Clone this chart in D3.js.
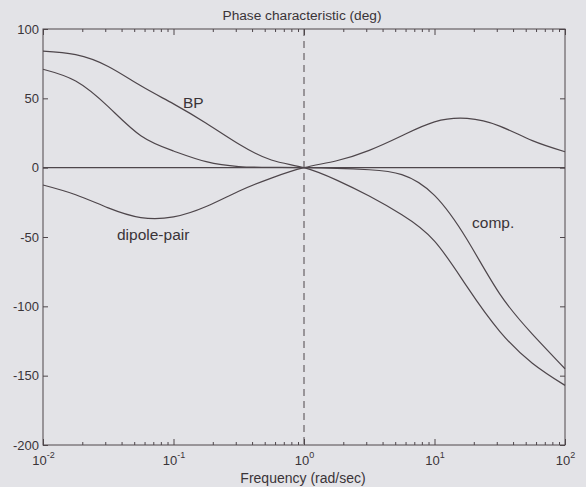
<!DOCTYPE html>
<html>
<head>
<meta charset="utf-8">
<script src="https://cdn.jsdelivr.net/npm/d3@7"></script>
<style>
  html, body { margin: 0; padding: 0; background: #e3e3e7; }
  svg { display: block; }
  text { font-family: Arial, "Liberation Sans", sans-serif; fill: #3a3438; }
</style>
</head>
<body>
<svg id="chart" width="586" height="487"></svg>
<script>
// Frequency grid (rad/sec), quarter-decade steps from 1e-2 to 1e2
const frequency = [0.01, 0.0178, 0.0316, 0.0562, 0.1, 0.178, 0.316, 0.562,
                   1, 1.78, 3.16, 5.62, 10, 17.8, 31.6, 56.2, 100];

// Phase of each transfer function (deg)
const phaseBP     = [84, 81.5, 73, 59, 46, 32, 17, 5.5, 0, -9, -20.5, -34, -53, -86, -118, -141, -157];
const phaseDipole = [-12.5, -19.5, -29, -36, -35.5, -28, -17, -7.5, 0, 5, 12.5, 23, 33, 35.5, 30, 19.5, 11.5];
const phaseComp   = [71, 62.5, 44, 23, 12, 4.3, 0.8, 0.2, 0, -0.5, -1.5, -5, -20, -52, -91, -120, -145];

const xTickValues = [0.01, 0.1, 1, 10, 100];
const xTickExponents = ["-2", "-1", "0", "1", "2"];
const yTickValues = [100, 50, 0, -50, -100, -150, -200];

const curveLabels = [
  { text: "BP", f: 0.118, v: 42.7 },
  { text: "dipole-pair", f: 0.0369, v: -52.5 },
  { text: "comp.", f: 19.4, v: -43.8 }
];

const margin = { left: 43, right: 21, top: 29, bottom: 42 };
const W = 586, H = 487;
const ink = "#4e464b";

const svg = d3.select("#chart");

const x = d3.scaleLog().domain([0.01, 100]).range([margin.left, W - margin.right]);
const y = d3.scaleLinear().domain([-200, 100]).range([H - margin.bottom, margin.top]);

// minor ticks 2..9 per decade
const minorTicks = [];
for (let d = -2; d < 2; d++) {
  for (let k = 2; k <= 9; k++) minorTicks.push(k * Math.pow(10, d));
}

function styleAxis(g) {
  g.select(".domain").remove();
  g.selectAll(".tick line").attr("stroke", ink).attr("stroke-width", 1);
}

// Bottom axis: major ticks with 10^n labels
const bottomMajor = svg.append("g")
  .attr("transform", `translate(0,${y(-200)})`)
  .call(d3.axisBottom(x).tickValues(xTickValues).tickSize(-6).tickSizeOuter(0).tickFormat(""))
  .call(styleAxis);

bottomMajor.selectAll(".tick").each(function(d, i) {
  const t = d3.select(this).append("text")
    .attr("y", 20)
    .attr("text-anchor", "middle")
    .attr("font-size", 13);
  t.append("tspan").text("10");
  t.append("tspan").attr("dy", -7).attr("font-size", 9).text(xTickExponents[i]);
});

svg.append("g")
  .attr("transform", `translate(0,${y(-200)})`)
  .call(d3.axisBottom(x).tickValues(minorTicks).tickSize(-3).tickSizeOuter(0).tickFormat(""))
  .call(styleAxis);

// Top axis ticks
svg.append("g")
  .attr("transform", `translate(0,${y(100)})`)
  .call(d3.axisTop(x).tickValues(xTickValues).tickSize(-6).tickSizeOuter(0).tickFormat(""))
  .call(styleAxis);
svg.append("g")
  .attr("transform", `translate(0,${y(100)})`)
  .call(d3.axisTop(x).tickValues(minorTicks).tickSize(-3).tickSizeOuter(0).tickFormat(""))
  .call(styleAxis);

// Left axis with labels (plain hyphen for negatives)
svg.append("g")
  .attr("transform", `translate(${x(0.01)},0)`)
  .call(d3.axisLeft(y).tickValues(yTickValues).tickSize(-5).tickSizeOuter(0).tickPadding(4).tickFormat(d => String(d)))
  .call(styleAxis)
  .call(g => g.selectAll("text").attr("font-size", 13).attr("fill", "#3a3438").attr("font-family", "Arial, 'Liberation Sans', sans-serif"));

// Right axis ticks
svg.append("g")
  .attr("transform", `translate(${x(100)},0)`)
  .call(d3.axisRight(y).tickValues(yTickValues).tickSize(-5).tickSizeOuter(0).tickFormat(""))
  .call(styleAxis);

// Plot frame
svg.append("rect")
  .attr("x", x(0.01)).attr("y", y(100))
  .attr("width", x(100) - x(0.01)).attr("height", y(-200) - y(100))
  .attr("fill", "none").attr("stroke", ink).attr("stroke-width", 1);

// Zero-phase reference line
svg.append("line")
  .attr("x1", x(0.01)).attr("x2", x(100))
  .attr("y1", y(0)).attr("y2", y(0))
  .attr("stroke", ink).attr("stroke-width", 1.1);

// Dashed marker at 1 rad/sec
svg.append("line")
  .attr("x1", x(1)).attr("x2", x(1))
  .attr("y1", y(100)).attr("y2", y(-200))
  .attr("stroke", ink).attr("stroke-width", 1)
  .attr("stroke-dasharray", "7,5");

// Phase curves
const line = d3.line()
  .x((d, i) => x(frequency[i]))
  .y(d => y(d))
  .curve(d3.curveNatural);

[phaseBP, phaseDipole, phaseComp].forEach(series => {
  svg.append("path")
    .datum(series)
    .attr("d", line)
    .attr("fill", "none")
    .attr("stroke", ink)
    .attr("stroke-width", 1.2);
});

// Curve labels
curveLabels.forEach(l => {
  svg.append("text")
    .attr("x", x(l.f)).attr("y", y(l.v))
    .attr("font-size", 15.5)
    .text(l.text);
});

// Title and axis label
svg.append("text")
  .attr("x", 302).attr("y", 19.5)
  .attr("text-anchor", "middle")
  .attr("font-size", 13.7)
  .text("Phase characteristic (deg)");

svg.append("text")
  .attr("x", 303).attr("y", 483)
  .attr("text-anchor", "middle")
  .attr("font-size", 14)
  .text("Frequency (rad/sec)");
</script>
</body>
</html>
